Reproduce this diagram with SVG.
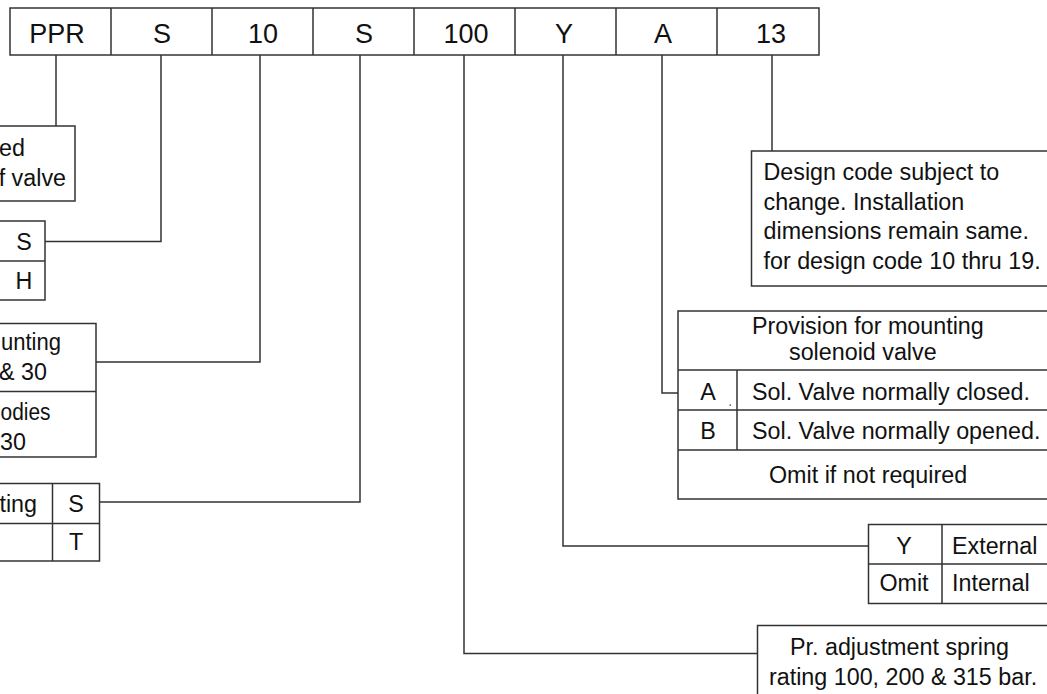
<svg xmlns="http://www.w3.org/2000/svg" width="1047" height="694" viewBox="0 0 1047 694">
<style>
.b{fill:#fff;stroke:#333;stroke-width:1.5}
.l{fill:none;stroke:#333;stroke-width:1.5}
text{font-family:"Liberation Sans",Arial,sans-serif;fill:#111}
.t{font-size:27px;text-anchor:middle}
.s{font-size:23.3px}
.m{text-anchor:middle}
.e{text-anchor:end}
</style>
<rect width="1047" height="694" fill="#fff"/>
<g id="connectors" class="l">
<polyline points="56,55 56,126"/>
<polyline points="161,55 161,241.5 45,241.5"/>
<polyline points="260,55 260,362 96,362"/>
<polyline points="360,55 360,502 99.5,502"/>
<polyline points="464,55 464,653.5 757.5,653.5"/>
<polyline points="563,55 563,546 868.5,546"/>
<polyline points="662,55 662,393 678,393"/>
<polyline points="772,55 772,151"/>
</g>
<g id="code">
<rect class="b" x="10" y="8" width="809" height="47"/>
<path class="l" d="M111,8V55M212,8V55M313,8V55M414,8V55M515,8V55M616,8V55M717,8V55"/>
<text class="t" x="57" y="43">PPR</text>
<text class="t" x="162" y="43">S</text>
<text class="t" x="263" y="43">10</text>
<text class="t" x="364" y="43">S</text>
<text class="t" x="466" y="43">100</text>
<text class="t" x="564" y="43">Y</text>
<text class="t" x="663" y="43">A</text>
<text class="t" x="771" y="43">13</text>
</g>
<g id="node-type">
<rect class="b" x="-10" y="126" width="85" height="75"/>
<text class="s e" x="25" y="156">ed</text>
<text class="s e" x="66" y="186">f valve</text>
</g>
<g id="node-sh">
<rect class="b" x="-10" y="221" width="55" height="79"/>
<path class="l" d="M-10,261H45"/>
<text class="s m" x="24" y="250">S</text>
<text class="s m" x="24" y="289">H</text>
</g>
<g id="node-mounting">
<rect class="b" x="-10" y="323.5" width="106" height="133.5"/>
<path class="l" d="M-10,391.5H96"/>
<text class="s" x="1" y="350" textLength="60" lengthAdjust="spacingAndGlyphs">unting</text>
<text class="s e" x="47" y="380">&amp; 30</text>
<text class="s" x="0.5" y="420" textLength="50" lengthAdjust="spacingAndGlyphs">odies</text>
<text class="s e" x="26" y="450">30</text>
</g>
<g id="node-rating">
<rect class="b" x="-10" y="483.5" width="109.5" height="77.5"/>
<path class="l" d="M-10,523.5H99.5M52.5,483.5V561"/>
<text class="s e" x="37" y="511.5">ting</text>
<text class="s m" x="76" y="511.5">S</text>
<text class="s m" x="76" y="550">T</text>
</g>
<g id="node-design">
<rect class="b" x="751.5" y="151" width="310" height="135"/>
<text class="s" x="763.5" y="180">Design code subject to</text>
<text class="s" x="763.5" y="209.5">change. Installation</text>
<text class="s" x="763.5" y="239">dimensions remain same.</text>
<text class="s" x="763.5" y="268.5">for design code 10 thru 19.</text>
</g>
<g id="node-solenoid">
<rect class="b" x="678" y="311" width="380" height="188"/>
<path class="l" d="M678,370H1058M678,410H1058M678,450H1058M737,370V450"/>
<text class="s" x="752" y="333.5">Provision for mounting</text>
<text class="s" x="789" y="360">solenoid valve</text>
<text class="s m" x="708" y="399.5">A</text>
<text class="s" x="752" y="399.5">Sol. Valve normally closed.</text>
<text class="s m" x="708" y="438.5">B</text>
<text class="s" x="752" y="438.5">Sol. Valve normally opened.</text>
<text class="s" x="769" y="483">Omit if not required</text>
<rect x="729.5" y="404.5" width="1.5" height="1.2" fill="#333"/>
</g>
<g id="node-pilot">
<rect class="b" x="868.5" y="524.5" width="190" height="79"/>
<path class="l" d="M868.5,564H1058.5M942,524.5V603.5"/>
<text class="s m" x="904" y="553.5">Y</text>
<text class="s" x="952" y="553.5">External</text>
<text class="s m" x="904" y="591">Omit</text>
<text class="s" x="952" y="591">Internal</text>
</g>
<g id="node-spring">
<rect class="b" x="757.5" y="625.5" width="300" height="80"/>
<text class="s" x="790" y="655">Pr. adjustment spring</text>
<text class="s" x="769" y="685">rating 100, 200 &amp; 315 bar.</text>
</g>
</svg>
